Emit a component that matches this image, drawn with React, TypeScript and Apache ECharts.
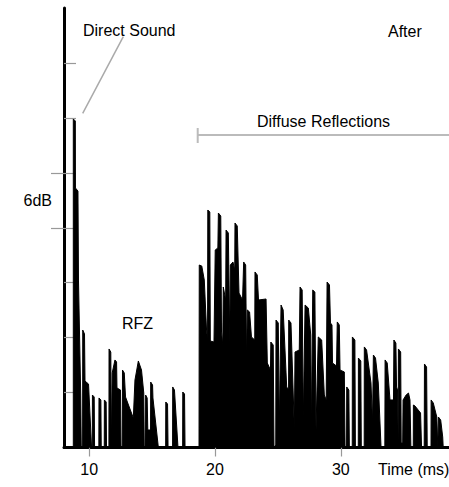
import React, { useEffect, useRef } from "react";
import * as echarts from "echarts";

// Impulse response envelope: time (ms) and level (dB above floor)
const times = [
  8.74, 8.74, 8.9, 8.91, 9.11, 9.15, 9.33, 9.37, 9.48, 9.49, 9.63, 9.67, 9.95, 10.19,
  10.25, 10.26, 10.4, 10.43, 10.77, 10.78, 10.93, 10.96, 11.2, 11.21, 11.35, 11.38,
  11.57, 11.58, 11.72, 11.76, 11.8, 11.83, 12.05, 12.18, 12.21, 12.49, 12.53, 12.63,
  12.65, 12.79, 12.89, 13.51, 13.64, 13.91, 14.16, 14.34, 14.38, 14.48, 14.49, 14.61,
  14.66, 14.88, 14.89, 15.04, 15.07, 15.5, 16.08, 16.09, 16.23, 16.27, 16.63, 16.64,
  16.78, 17.06, 17.43, 17.44, 17.58, 17.62, 18.73,
  18.75, 18.95, 19.15, 19.33, 19.41, 19.43, 19.59, 19.63, 19.92, 20.02, 20.23, 20.27,
  20.46, 20.52, 20.62, 20.66, 20.85, 20.88, 21.06, 21.18, 21.22, 21.43, 21.57, 21.59,
  21.77, 21.91, 22.19, 22.28, 22.44, 22.51, 22.57, 22.75, 22.9, 23.16, 23.18, 23.36,
  23.46, 24.06, 24.16, 24.41, 24.44, 24.63, 24.69, 24.83, 24.85, 25.03, 25.11, 25.25,
  25.42, 25.7, 25.85, 25.86, 26.04, 26.31, 26.36, 26.7, 26.76, 26.93, 27.02, 27.16,
  27.42, 27.61, 27.67, 27.77, 27.94, 28.03, 28.21, 28.48, 28.69, 28.84, 28.91, 29.1,
  29.18, 29.3, 29.34, 29.66, 29.72, 29.88, 29.94, 30.28, 30.34, 30.46, 30.47, 30.64,
  30.68, 30.91, 30.92, 31.12, 31.16, 31.39, 31.4, 31.59, 31.63, 31.86, 31.87, 32.05,
  32.4, 32.52, 32.59, 32.76, 32.98, 33.2, 33.5, 33.52, 33.69, 33.91, 34.19, 34.22,
  34.38, 34.43, 34.51, 34.56, 34.58, 34.76, 34.8, 34.92, 34.95, 35.19, 35.38, 35.5,
  35.57, 35.76, 35.77, 35.9, 36.34, 36.42, 36.63, 36.65, 36.82, 36.87, 37.17, 37.18,
  37.35, 37.63, 37.71, 37.75, 37.76, 37.94, 38.1, 38.14, 38.6,
];

const levels = [
  0, 35.88, 35.66, 28.34, 28.01, 18.29, 5.73, 0, 0, 12.83, 12.4, 7.26, 6.93, 0,
  0, 5.73, 5.52, 0, 0, 5.41, 5.19, 0, 0, 5.19, 4.97, 0,
  0, 10.76, 10.43, 0, 0, 8.14, 9.56, 9.34, 6.5, 6.28, 0, 0,
  8.46, 8.14, 5.52, 3.22, 7.37, 9.45, 8.46, 5.95, 0, 0, 5.73, 5.41,
  1.91, 1.91, 7.15, 6.83, 5.41, 0, 0, 4.97, 4.75, 0, 0, 6.61,
  6.28, 0, 0, 6.06, 5.84, 0, 0,
  19.93, 19.82, 18.29, 12.83, 11.63, 25.94, 25.72, 11.63, 11.52, 21.57, 21.79, 25.61,
  25.28, 12.61, 11.19, 17.53, 16.11, 23.75, 23.43, 11.41, 19.93, 20.26, 19.38, 24.52,
  24.19, 16.87, 16.11, 20.26, 19.93, 9.34, 15.02, 14.8, 12.07, 11.74, 19.17, 18.84,
  16.11, 16.22, 9.23, 8.46, 11.52, 11.19, 0, 0.27, 13.92, 13.6, 1.91, 15.56,
  15.02, 6.61, 6.28, 13.92, 13.6, 1.91, 10.43, 10.65, 17.53, 17.2, 3.0, 15.56,
  15.23, 12.29, 2.13, 17.2, 16.98, 1.91, 12.07, 11.74, 5.73, 5.19, 18.07, 17.75,
  13.6, 13.38, 9.23, 8.9, 13.71, 13.38, 8.46, 8.25, 0, 0, 6.61, 6.28,
  0, 0, 12.07, 11.74, 0, 0, 9.77, 9.45, 0, 0, 10.98, 10.65,
  7.04, 2.68, 10.1, 9.77, 7.04, 0, 0, 9.56, 9.23, 5.19, 5.19, 11.74,
  11.41, 6.61, 6.28, 0.82, 10.76, 10.43, 0.49, 0.49, 5.19, 5.73, 5.95, 5.19,
  0, 0, 4.64, 4.53, 3.77, 0, 0, 9.12, 8.79, 0, 0, 5.19,
  4.86, 3.33, 0, 0, 3.33, 3.0, 1.15, 0, 0,
];

const xTickValues = [10, 20, 30];
const yTickValues = [6, 12, 18, 24, 30, 36, 42];
const yLongTickValues = [24, 30];

const FONT = "'Liberation Sans', Arial, Helvetica, sans-serif";
const TXT = "#000";

export default function App() {
  const ref = useRef<HTMLDivElement>(null);

  useEffect(() => {
    if (!ref.current) return;
    const chart = echarts.init(ref.current, null, { renderer: "svg" });
    const data = times.map((t, i) => [t, levels[i]]);

    const text = (x: number, y: number, s: string) => ({
      type: "text",
      x,
      y,
      style: {
        text: s,
        fill: TXT,
        font: `16px ${FONT}`,
        verticalAlign: "middle",
        align: "left",
      },
    });

    chart.setOption({
      animation: false,
      backgroundColor: "#fff",
      grid: { left: 64, right: 0, top: 8, bottom: 39.5, containLabel: false },
      xAxis: {
        type: "value",
        min: 8,
        max: 38.6,
        axisLine: { show: true, lineStyle: { color: "#000", width: 3 } },
        axisTick: {
          show: true,
          length: 9,
          customValues: xTickValues,
          lineStyle: { color: "#999", width: 1.2 },
        },
        axisLabel: {
          show: true,
          customValues: xTickValues,
          fontSize: 16,
          fontFamily: FONT,
          color: TXT,
          margin: 14,
        },
        splitLine: { show: false },
      },
      yAxis: [
        {
          type: "value",
          min: 0,
          max: 48,
          axisLine: { show: true, onZero: false, lineStyle: { color: "#000", width: 3 } },
          axisTick: {
            show: true,
            inside: true,
            length: 12,
            customValues: yTickValues,
            lineStyle: { color: "#999", width: 1.2 },
          },
          axisLabel: { show: false },
          splitLine: { show: false },
        },
        {
          type: "value",
          min: 0,
          max: 48,
          position: "left",
          offset: 0,
          axisLine: { show: false },
          axisTick: {
            show: true,
            inside: false,
            length: 13,
            customValues: yLongTickValues,
            lineStyle: { color: "#999", width: 1.2 },
          },
          axisLabel: { show: false },
          splitLine: { show: false },
        },
      ],
      series: [
        {
          type: "line",
          data,
          symbol: "none",
          lineStyle: { color: "#000", width: 1 },
          areaStyle: { color: "#000", opacity: 1 },
          z: 1,
        },
      ],
      graphic: [
        text(83, 30.5, "Direct Sound"),
        text(388, 31.5, "After"),
        text(257, 121, "Diffuse Reflections"),
        text(23.5, 200.5, "6dB"),
        text(122, 323, "RFZ"),
        text(378, 469, "Time (ms)"),
        {
          type: "line",
          shape: { x1: 123.3, y1: 36.7, x2: 82.7, y2: 113.3 },
          style: { stroke: "#aaa", lineWidth: 1.5 },
        },
        {
          type: "line",
          shape: { x1: 197.7, y1: 135, x2: 449, y2: 135 },
          style: { stroke: "#bbb", lineWidth: 2 },
        },
        {
          type: "line",
          shape: { x1: 197.7, y1: 128, x2: 197.7, y2: 143 },
          style: { stroke: "#bbb", lineWidth: 2 },
        },
      ],
    });

    return () => chart.dispose();
  }, []);

  return (
    <div
      ref={ref}
      style={{ position: "fixed", left: 0, top: 0, width: 449, height: 487 }}
    />
  );
}
